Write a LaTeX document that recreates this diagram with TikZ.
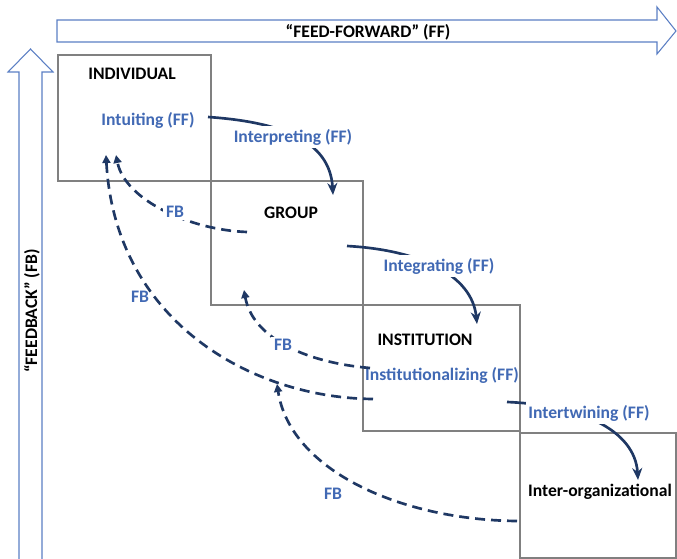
\documentclass[tikz,border=0pt]{standalone}
\usepackage{fontspec}
\setmainfont{Carlito}
\usetikzlibrary{arrows.meta}
\definecolor{navy}{HTML}{1F3864}
\definecolor{labelblue}{HTML}{4169B4}
\definecolor{frameblue}{HTML}{5B7FC4}
\definecolor{boxgray}{HTML}{808080}

\begin{document}
\begin{tikzpicture}[x=0.75pt,y=-0.75pt,
  every node/.style={font=\fontsize{13.2}{15}\selectfont\bfseries, inner sep=1pt},
  level/.style={draw=boxgray, line width=2pt, inner sep=0pt},
  title/.style={text=black},
  flow/.style={text=labelblue},
  tag/.style={text=labelblue, fill=white, inner sep=2pt},
  ffarrow/.style={navy, line width=2pt, -{Stealth[length=9pt,width=7.5pt]}},
  fbarrow/.style={navy, line width=2pt, dash pattern=on 7.5pt off 4.5pt,
                  -{Triangle[length=6pt,width=6pt]}},
  bigarrow/.style={draw=frameblue, line width=0.8pt, fill=white}
]
\useasboundingbox (0,0) rectangle (677,559);

% block arrows framing the stages
\draw[bigarrow] (57,20) -- (657,20) -- (657,7) -- (676,31) -- (657,54)
  -- (657,42) -- (57,42) -- cycle;
\draw[bigarrow] (19,565) -- (19,72) -- (8,72) -- (30.5,49) -- (53,72)
  -- (42,72) -- (42,565);
\node[title] (ffname) at (368,32) {“FEED-FORWARD” (FF)};
\node[title, rotate=90] (fbname) at (32,311) {“FEEDBACK” (FB)};

% the four levels
\node[level, minimum width=114.75pt, minimum height=94.5pt] (ind) at (134.5,118) {};
\node[level, minimum width=114pt, minimum height=93pt] (grp) at (287,243) {};
\node[level, minimum width=117.75pt, minimum height=94.5pt] (ins) at (441.5,368) {};
\node[level, minimum width=117pt, minimum height=93.75pt] (org) at (598,495.5) {};

\node[title] (tind) at (132,74) {INDIVIDUAL};
\node[title] (tgrp) at (291,213) {GROUP};
\node[title] (tins) at (425,340) {INSTITUTION};
\node[title] (torg) at (600,492) {Inter-organizational};

\node[flow] (intu) at (148,120) {Intuiting (FF)};
\node[flow] (inst) at (442,375) {Institutionalizing (FF)};

% feed-forward end points
\coordinate (ff1s) at (208,117);
\coordinate (ff1e) at (333,195);
\coordinate (ff2s) at (347,246);
\coordinate (ff2e) at (477,324);
\coordinate (ff3s) at (507,402);
\coordinate (ff3e) at (638,480);

% feedback end points
\coordinate (fb1s) at (247,232);
\coordinate (fb1e) at (116,155);
\coordinate (fb2s) at (373,399);
\coordinate (fb2e) at (106,155);
\coordinate (fb3s) at (370,368);
\coordinate (fb3e) at (244,290);
\coordinate (fb4s) at (517,521);
\coordinate (fb4e) at (277,384);

% feed-forward flows
\draw[ffarrow] (ff1s) .. controls (280,122) and (330,140) .. (ff1e);
\draw[ffarrow] (ff2s) .. controls (420,250) and (472,275) .. (ff2e);
\draw[ffarrow] (ff3s) .. controls (580,405) and (635,430) .. (ff3e);

% feedback flows
\draw[fbarrow] (fb1s) .. controls (190,230) and (125,200) .. (fb1e);
\draw[fbarrow] (fb2s) .. controls (250,398) and (115,320) .. (fb2e);
\draw[fbarrow] (fb3s) .. controls (300,362) and (252,335) .. (fb3e);
\draw[fbarrow] (fb4s) .. controls (400,520) and (290,470) .. (fb4e);

% labels on the flows
\node[tag] (interp) at (293,137) {Interpreting (FF)};
\node[tag] (integ) at (439,266) {Integrating (FF)};
\node[tag] (intert) at (589,413) {Intertwining (FF)};
\node[tag] (fbl1) at (175,212) {FB};
\node[flow] (fbl2) at (140,297) {FB};
\node[tag] (fbl3) at (283,345) {FB};
\node[tag] (fbl4) at (333,494) {FB};
\end{tikzpicture}
\end{document}
